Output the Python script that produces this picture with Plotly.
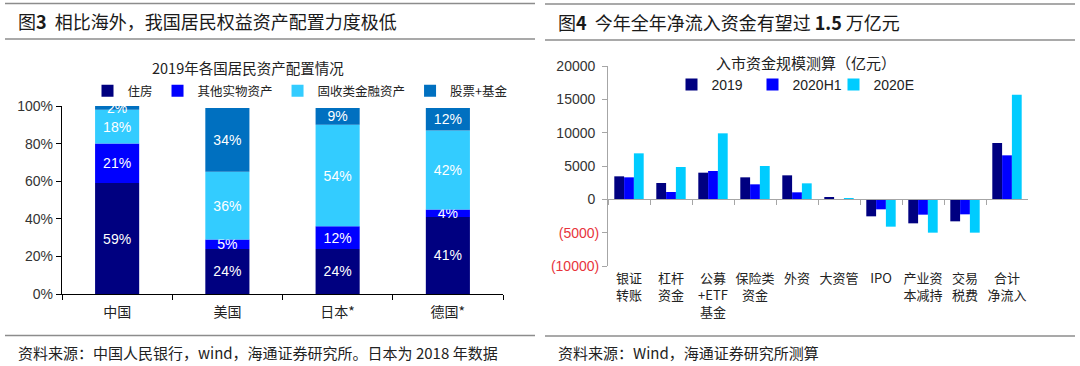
import numpy as np
import plotly.graph_objects as go

W, H = 1080, 366


def px(x):
    return x / W


def py(y):
    return 1 - y / H


# ---------------- Left chart data ----------------
countries = ["中国", "美国", "日本*", "德国*"]
asset_types = ["住房", "其他实物资产", "固收类金融资产", "股票+基金"]
housing = [59, 24, 24, 41]
other_real = [21, 5, 12, 4]
fixed_income = [18, 36, 54, 42]
equity_funds = [2, 34, 9, 12]
left_colors = ["#000080", "#0000FF", "#33CCFF", "#0070C0"]
left_yticks = [0, 20, 40, 60, 80, 100]

# ---------------- Right chart data ----------------
channels = ["银证<br>转账", "杠杆<br>资金", "公募<br>+ETF<br>基金", "保险类<br>资金", "外资",
            "大资管", "IPO", "产业资<br>本减持", "交易<br>税费", "合计<br>净流入"]
v2019 = [3450, 2450, 4000, 3300, 3600, 350, -2550, -3600, -3300, 8450]
v2020h1 = [3300, 1100, 4250, 2250, 1050, -80, -1500, -2300, -2250, 6600]
v2020e = [6900, 4850, 9900, 5000, 2400, 150, -4100, -5000, -5000, 15700]
right_series = ["2019", "2020H1", "2020E"]
right_colors = ["#000080", "#0000FF", "#00CCFF"]
right_yticks = [-10000, -5000, 0, 5000, 10000, 15000, 20000]

LATIN = "Liberation Sans, Arial, Noto Sans CJK SC, sans-serif"
CJK = "Noto Sans CJK SC, Liberation Sans, sans-serif"

fig = go.Figure()

# Left: stacked bars (explicit base from cumulative data)
left_series = [housing, other_real, fixed_income, equity_funds]
cum = np.zeros(len(countries))
for name, vals, col in zip(asset_types, left_series, left_colors):
    fig.add_trace(go.Bar(
        x=countries, y=vals, base=cum.copy(), name=name,
        marker=dict(color=col, line=dict(width=0)),
        width=0.4, offsetgroup="L",
        text=[f"{v}%" for v in vals], textposition="inside",
        insidetextanchor="middle", constraintext="none",
        textfont=dict(color="white", size=14, family=LATIN),
        xaxis="x", yaxis="y", legend="legend",
    ))
    cum = cum + np.array(vals)

# Right: grouped bars
for name, vals, col in zip(right_series, [v2019, v2020h1, v2020e], right_colors):
    fig.add_trace(go.Bar(
        x=channels, y=vals, name=name,
        marker=dict(color=col, line=dict(width=0)),
        xaxis="x2", yaxis="y2", legend="legend2",
    ))

right_ticktext = []
for v in right_yticks:
    if v < 0:
        right_ticktext.append(f'<span style="color:#E8343C">({abs(v)})</span>')
    else:
        right_ticktext.append(f"{v}\u00a0")
left_ticktext = [f"{v}%" for v in left_yticks]

y2_dom = [py(266), py(66)]
zero_paper = y2_dom[0] + (y2_dom[1] - y2_dom[0]) * (0 - right_yticks[0]) / (right_yticks[-1] - right_yticks[0])

fig.update_layout(
    width=W, height=366,
    margin=dict(l=0, r=0, t=0, b=0, autoexpand=False),
    paper_bgcolor="white", plot_bgcolor="white",
    font=dict(family=LATIN, color="#333333"),
    barmode="group", bargap=0.3, bargroupgap=0,
    xaxis=dict(
        domain=[px(62), px(503)], anchor="y", type="category",
        range=[-0.5, 3.5], tickson="boundaries", ticks="outside", ticklen=5,
        tickwidth=1.3, tickcolor="#000000", showline=True, linecolor="#000000",
        linewidth=1.3, showgrid=False, zeroline=False, automargin=False,
        ticklabelstandoff=5,
        tickfont=dict(family=CJK, size=14, color="#222222"),
    ),
    yaxis=dict(
        domain=[py(294), py(106)], anchor="x", range=[0, 100],
        tickvals=left_yticks, ticktext=left_ticktext, ticks="outside", ticklen=5,
        tickwidth=1.3, tickcolor="#000000", showline=True, linecolor="#000000",
        linewidth=1.3, showgrid=False, zeroline=False, automargin=False,
        tickfont=dict(family=LATIN, size=14, color="#333333"),
    ),
    xaxis2=dict(
        domain=[px(608), px(1028)], anchor="free", position=zero_paper,
        type="category", range=[-0.5, 9.5], tickson="boundaries",
        ticks="outside", ticklen=5, tickcolor="#A6A6A6", showline=True,
        linecolor="#A6A6A6", linewidth=1, showgrid=False, zeroline=False,
        ticklabelstandoff=67, tickangle=0, automargin=False,
        tickfont=dict(family=CJK, size=13, color="#222222"),
    ),
    yaxis2=dict(
        domain=y2_dom, anchor="x2", range=[-10000, 20000],
        tickvals=right_yticks, ticktext=right_ticktext, ticks="outside",
        ticklen=5, tickcolor="#A6A6A6", showline=True, linecolor="#A6A6A6",
        linewidth=1, showgrid=False, zeroline=False, automargin=False,
        tickfont=dict(family=LATIN, size=14, color="#333333"),
    ),
    legend=dict(
        orientation="h", x=px(300), xanchor="center", y=py(91), yanchor="middle",
        font=dict(family=CJK, size=12.5, color="#222222"),
        bgcolor="rgba(0,0,0,0)", itemwidth=30, traceorder="normal",
    ),
    legend2=dict(
        orientation="h", x=px(793), xanchor="center", y=py(85), yanchor="middle",
        font=dict(family=LATIN, size=14, color="#222222"),
        bgcolor="rgba(0,0,0,0)", itemwidth=30, traceorder="normal",
        entrywidth=36, entrywidthmode="pixels",
    ),
)

# Panel header / footer rules
shapes = []
for (x0, x1), ys in [((5, 535), (3.5, 39, 335.5)), ((545, 1075), (4, 40, 336))]:
    for yy in ys:
        shapes.append(dict(type="line", xref="paper", yref="paper",
                           x0=px(x0), x1=px(x1), y0=py(yy), y1=py(yy),
                           line=dict(color="#8C8C8C", width=1.5)))
fig.update_layout(shapes=shapes)

annotations = [
    dict(text="图<b>3</b>  相比海外，我国居民权益资产配置力度极低", x=px(16), y=py(21),
         font=dict(family=CJK, size=18, color="#1A1A1A")),
    dict(text="图<b>4</b>  今年全年净流入资金有望过 <b>1.5</b> 万亿元", x=px(556), y=py(22),
         font=dict(family=CJK, size=18, color="#1A1A1A")),
    dict(text="2019年各国居民资产配置情况", x=px(248), y=py(67), xanchor="center",
         font=dict(family=CJK, size=14.5, color="#222222")),
    dict(text="入市资金规模测算（亿元）", x=px(806), y=py(63), xanchor="center",
         font=dict(family=CJK, size=15, color="#222222")),
    dict(text="资料来源：中国人民银行，wind，海通证券研究所。日本为 2018 年数据", x=px(16), y=py(352),
         font=dict(family=CJK, size=15, color="#222222")),
    dict(text="资料来源：Wind，海通证券研究所测算", x=px(556), y=py(352),
         font=dict(family=CJK, size=15, color="#222222")),
]
for a in annotations:
    a.setdefault("xanchor", "left")
    a.update(xref="paper", yref="paper", yanchor="middle", showarrow=False)
fig.update_layout(annotations=annotations)

fig.write_html(
    "out.html",
    config={"displayModeBar": False},
    post_script="document.body.style.margin='0';document.body.style.padding='0';"
                "document.body.style.overflow='hidden';",
)
